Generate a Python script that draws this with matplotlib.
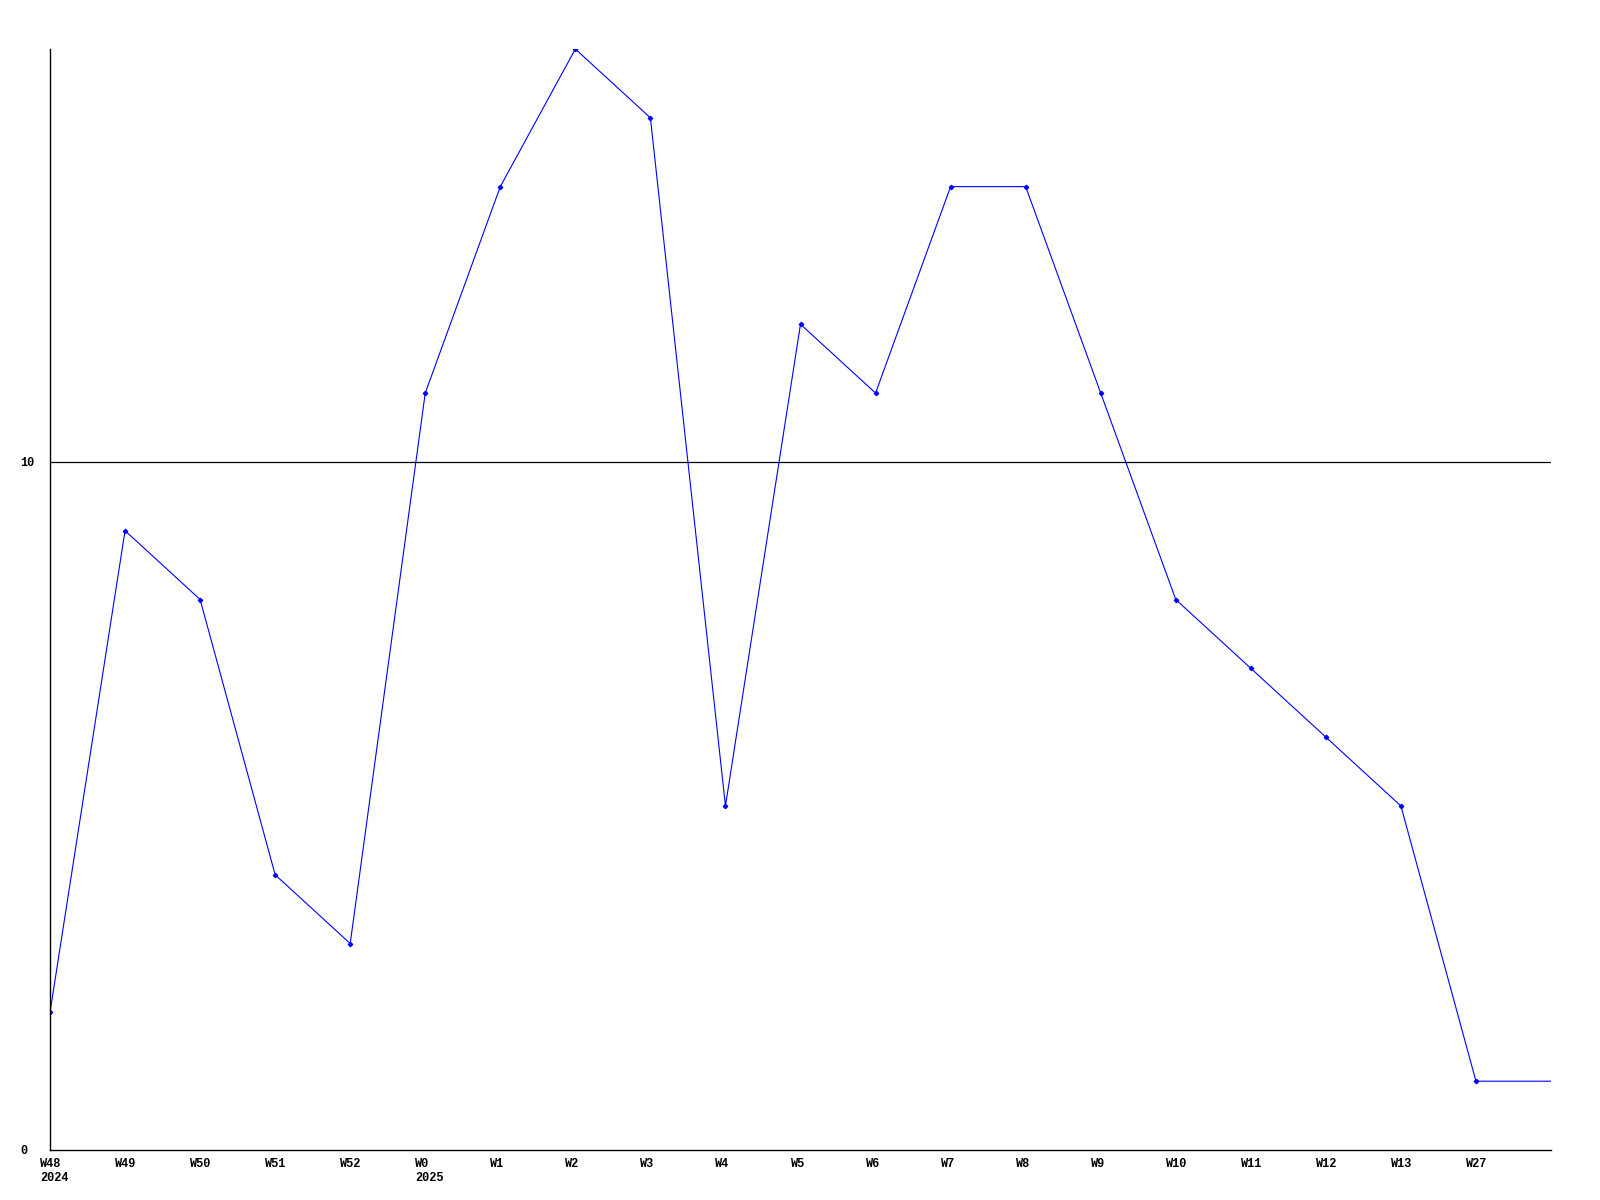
import matplotlib.pyplot as plt
import matplotlib.transforms as mtransforms

weeks = ['W48', 'W49', 'W50', 'W51', 'W52', 'W0', 'W1', 'W2', 'W3', 'W4',
         'W5', 'W6', 'W7', 'W8', 'W9', 'W10', 'W11', 'W12', 'W13', 'W27']
years = {'W48': '2024', 'W0': '2025'}
values = [2, 9, 8, 4, 3, 11, 14, 16, 15, 5,
          12, 11, 14, 14, 11, 8, 7, 6, 5, 1]
# la linea sigue hasta el borde derecho con el ultimo valor
tail_value = 1

font = {'family': 'Liberation Mono', 'weight': 'bold', 'size': 8.6}

fig = plt.figure(figsize=(16, 12), dpi=100)
ax = fig.add_axes([50 / 1600, 1 - 1150 / 1200, 1501 / 1600, 1101 / 1200])

x = list(range(len(values)))
ax.plot(x + [len(values)], values + [tail_value], color='#0000ff', lw=0.8)
ax.plot(x, values, ls='none', marker='D', ms=2.2, color='#0000ff')

ax.axhline(10, color='black', lw=0.9, zorder=0)

ax.set_xlim(0, 20)
ax.set_ylim(0, 16)

for s in ['top', 'right']:
    ax.spines[s].set_visible(False)
for s in ['left', 'bottom']:
    ax.spines[s].set_linewidth(1.0)
ax.tick_params(length=0)

ax.set_xticks(x)
labels = [w + ('\n' + years[w] if w in years else '') for w in weeks]
ax.set_xticklabels(labels, ha='left', va='top', linespacing=1.25, **font)
offset = mtransforms.ScaledTranslation(-0.1, -0.03, fig.dpi_scale_trans)
for lbl in ax.get_xticklabels():
    lbl.set_transform(lbl.get_transform() + offset)

ax.set_yticks([0, 10])
ax.set_yticklabels(['0', '10'], ha='left', **font)
ax.tick_params(axis='y', pad=21.5)

plt.savefig('out.png', dpi=100)
